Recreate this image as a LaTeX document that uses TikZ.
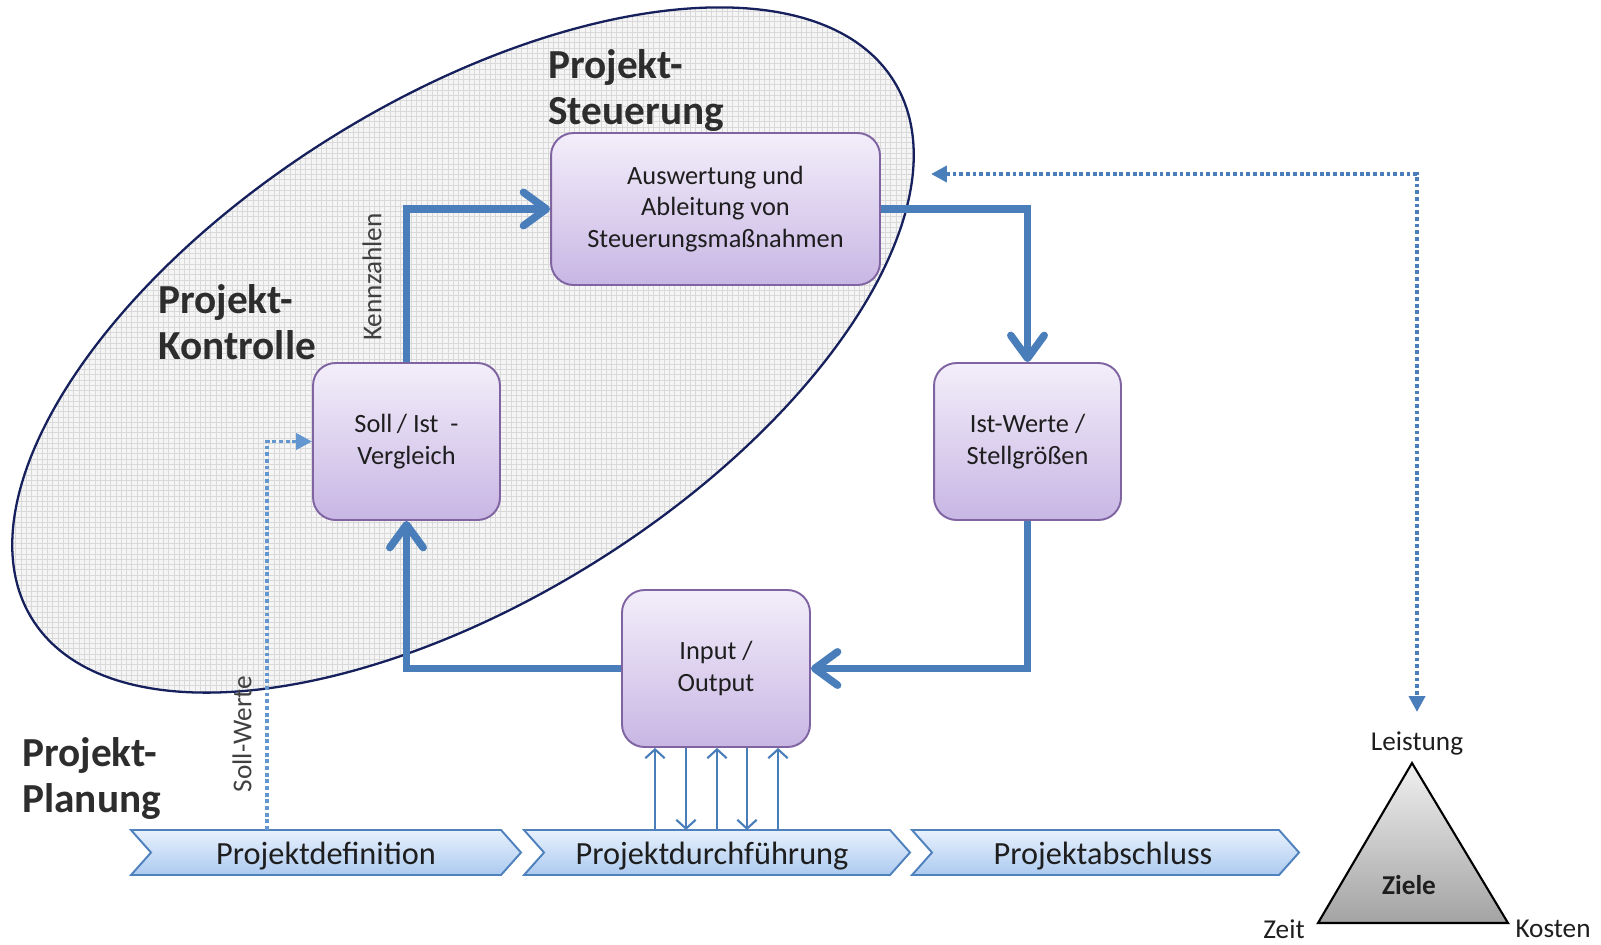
\documentclass[tikz,border=0pt]{standalone}
\usepackage{fontspec}
\setmainfont{Carlito}
\usetikzlibrary{arrows.meta,patterns}

\definecolor{flow}{RGB}{74,126,187}
\definecolor{flowlight}{RGB}{100,150,208}
\definecolor{boxtop}{RGB}{243,238,250}
\definecolor{boxbot}{RGB}{200,182,228}
\definecolor{boxline}{RGB}{128,100,162}
\definecolor{chevtop}{RGB}{232,241,253}
\definecolor{chevbot}{RGB}{172,202,240}
\definecolor{chevline}{RGB}{79,129,189}
\definecolor{rim}{RGB}{22,32,92}
\definecolor{ink}{RGB}{30,30,30}
\definecolor{head}{RGB}{45,45,45}

\begin{document}
\begin{tikzpicture}[x=0.02cm,y=-0.02cm,
  stage/.style={draw=boxline, line width=1.1pt, rounded corners=0.45cm,
    top color=boxtop, bottom color=boxbot, align=center, text=ink,
    font=\fontsize{15}{18}\selectfont, inner sep=0pt},
  flowline/.style={draw=flow, line width=4.3pt,
    -{Straight Barb[length=13pt,width=19pt,round]}},
  thinflow/.style={draw=flow, line width=1.2pt,
    -{Straight Barb[length=5pt,width=11pt]}},
  dotflow/.style={draw=flow, line width=2.2pt, dash pattern=on 2.2pt off 1.6pt},
  chev/.style={draw=chevline, line width=1.1pt, top color=chevtop, bottom color=chevbot},
  chevtext/.style={text=ink, font=\fontsize{18.4}{20}\selectfont, inner sep=0pt},
  heading/.style={text=head, font=\bfseries\fontsize{23.5}{26}\selectfont,
    align=left, anchor=base west, inner sep=0pt},
  sidelabel/.style={text=black!75, font=\fontsize{15.5}{18}\selectfont, rotate=90, inner sep=0pt},
  corner/.style={text=ink, font=\fontsize{15.5}{18}\selectfont, inner sep=0pt}
]
\useasboundingbox (0,0) rectangle (1601,944);

% control area
\fill[preaction={fill=black!4}, pattern=grid, pattern color=black!15,
  rotate around={32:(463,350)}] (463,350) ellipse [x radius=10.16cm, y radius=5cm];
\draw[rim, line width=1.3pt, rotate around={32:(463,350)}]
  (463,350) ellipse [x radius=10.16cm, y radius=5cm];

% headings (anchored at the baseline of their last line)
\node[heading] (hsteu) at (548,124) {Projekt-\\Steuerung};
\node[heading] (hkont) at (158,359) {Projekt-\\Kontrolle};
\node[heading] (hplan) at (22,812) {Projekt-\\Planung};

% control loop
\node[stage, minimum width=6.58cm, minimum height=3.04cm] (ausw) at (715.5,209)
  {Auswertung und\\Ableitung von\\Steuerungsmaßnahmen};
\node[stage, minimum width=3.74cm, minimum height=3.14cm] (soll) at (406.5,441.5)
  {Soll\,/ Ist~~-\\Vergleich};
\node[stage, minimum width=3.74cm, minimum height=3.14cm] (ist) at (1027.5,441.5)
  {Ist-Werte /\\Stellgrößen};
\node[stage, minimum width=3.76cm, minimum height=3.14cm] (io) at (716,668.5)
  {Input /\\Output};

\draw[flowline] (soll.north) |- (ausw.west);
\draw[flowline] (ausw.east) -| (ist.north);
\draw[flowline] (ist.south) |- (io.east);
\draw[flowline] (io.west) -| (soll.south);

\node[sidelabel] (kz) at (372,277) {Kennzahlen};

% project phases
\filldraw[chev] (131,830) -- (501,830) -- (521,852.5) -- (501,875) -- (131,875) -- (151,852.5) -- cycle;
\filldraw[chev] (524,830) -- (890,830) -- (910,852.5) -- (890,875) -- (524,875) -- (544,852.5) -- cycle;
\filldraw[chev] (912,830) -- (1279,830) -- (1299,852.5) -- (1279,875) -- (912,875) -- (932,852.5) -- cycle;
\node[chevtext] (def) at (326,856) {Projektdefinition};
\node[chevtext] (durch) at (712,856) {Projektdurchführung};
\node[chevtext] (absch) at (1103,856) {Projektabschluss};

% exchange between execution and input/output
\coordinate (u1) at (655,830);
\coordinate (d1) at (686,830);
\coordinate (u2) at (717,830);
\coordinate (d2) at (747,830);
\coordinate (u3) at (778,830);
\draw[thinflow] (u1) -- (u1 |- io.south);
\draw[thinflow] (u2) -- (u2 |- io.south);
\draw[thinflow] (u3) -- (u3 |- io.south);
\draw[thinflow] (d1 |- io.south) -- (d1);
\draw[thinflow] (d2 |- io.south) -- (d2);

% target values
\coordinate (sw) at (267,830);
\draw[dotflow, draw=flowlight, -{Triangle[length=9pt,width=9pt]}] (sw) |- (soll.west);
\node[sidelabel] (swl) at (242,734) {Soll-Werte};

% goal triangle
\coordinate (apex) at (1412,763);
\coordinate (bl) at (1318,923);
\coordinate (br) at (1508,923);
\path[draw=black, line width=1.2pt, top color=black!6, bottom color=black!36]
  (apex) -- (br) -- (bl) -- cycle;
\node[corner, font=\bfseries\fontsize{15.5}{18}\selectfont] (ziele) at (1409,885) {Ziele};
\node[corner] (leist) at (1417,743) {Leistung};
\node[corner] (zeit) at (1284,929) {Zeit};
\node[corner] (kost) at (1553,929) {Kosten};

% feedback between steering and goals
\coordinate (fb) at (931,174);
\coordinate (gl) at (1417,712);
\draw[dotflow, {Triangle[length=9pt,width=9pt]}-{Triangle[length=9pt,width=9pt]}] (fb) -| (gl);
\end{tikzpicture}
\end{document}
